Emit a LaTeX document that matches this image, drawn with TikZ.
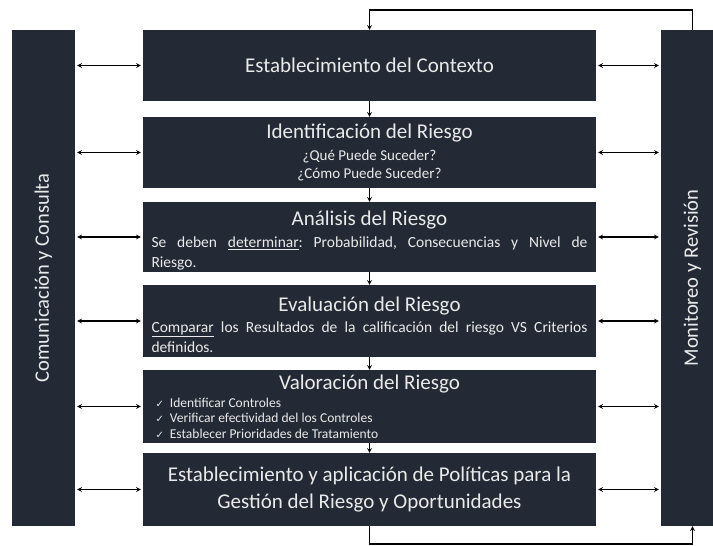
\documentclass[tikz,border=0pt]{standalone}
\usepackage{fontspec}
\setmainfont{Carlito}
\newfontfamily\checkfont{DejaVu Sans}
\usepackage{tikz}
\frenchspacing

\definecolor{boxfill}{HTML}{242A35}
\definecolor{boxtext}{HTML}{EAEAEA}

\newcommand{\stagetitle}[1]{\hbox to\hsize{\hss\rule{0pt}{22pt}#1\hss}\par}
\newcommand{\chkline}[1]{\par\noindent\hspace*{4pt}{\checkfont\fontsize{10}{12}\selectfont ✓}\hspace{6pt}#1}

\begin{document}
\begin{tikzpicture}[x=1pt, y=-1pt,
	stage/.style={fill=boxfill, text=boxtext, text width=436pt, inner xsep=8.5pt, inner ysep=0pt, font=\fontsize{21}{24}\selectfont, align=flush center},
	sidebar/.style={fill=boxfill, minimum width=63pt, minimum height=496pt, inner sep=0pt},
	sidetext/.style={text=boxtext, rotate=90, font=\fontsize{20.5}{24}\selectfont},
	link/.style={line width=1.1pt}]

	\clip (0,0) rectangle (713,546);

	\node[sidebar, label={[sidetext]center:Comunicación y Consulta}] (com) at (43.5,278) {};
	\node[sidebar, label={[sidetext]center:Monitoreo y Revisión}] (mon) at (692.5,278) {};

	\node[stage, minimum height=71pt] (b1) at (369.5,65.5) {Establecimiento del Contexto};
	\node[stage, minimum height=71pt] (b2) at (369.5,152.5) {Identificación del Riesgo\par\vspace{4pt}\fontsize{15}{18}\selectfont ¿Qué Puede Suceder?\\¿Cómo Puede Suceder?\par};
	\node[stage, minimum height=70pt, align=justify] (b3) at (369.5,237) {\stagetitle{Análisis del Riesgo}\vspace{1.5pt}\fontsize{15.5}{20}\selectfont Se deben \underline{determinar}: Probabilidad, Consecuencias y Nivel de\linebreak Riesgo.\par};
	\node[stage, minimum height=72pt, align=justify] (b4) at (369.5,321) {\stagetitle{Evaluación del Riesgo}\vspace{1.5pt}\fontsize{15.5}{19.5}\selectfont \underline{Comparar} los Resultados de la calificación del riesgo VS Criterios\linebreak definidos.\par};
	\node[stage, minimum height=73pt, align=flush left] (b5) at (369.5,406.5) {\hbox to\hsize{\hss Valoración del Riesgo\hss}\par\vspace{2.5pt}\fontsize{13.5}{15.5}\selectfont
		\chkline{Identificar Controles}
		\chkline{Verificar efectividad del los Controles}
		\chkline{Establecer Prioridades de Tratamiento}\par};
	\node[stage, minimum height=73pt, font=\fontsize{21}{27}\selectfont] (b6) at (369.5,489.5) {Establecimiento y aplicación de Políticas para la\\Gestión del Riesgo y Oportunidades\par};

	\coordinate (top) at (369.5,10);
	\coordinate (bot) at (692.5,544);

	\foreach \b in {b1,b2,b3,b4,b5,b6}{
		\draw[link,stealth-stealth,shorten <=2pt,shorten >=2pt] (com.east |- \b) -- (\b.west);
		\draw[link,stealth-stealth,shorten <=2pt,shorten >=2pt] (\b.east) -- (mon.west |- \b);
	}
	\foreach \a/\b in {b1/b2,b2/b3,b3/b4,b4/b5,b5/b6}
		\draw[link,-stealth] (\a.south) -- (\b.north);

	\draw[link,-stealth] (mon.north) |- (top) -- (b1.north);
	\draw[link,-stealth] (b6.south) |- (bot) -- (mon.south);

\end{tikzpicture}
\end{document}
